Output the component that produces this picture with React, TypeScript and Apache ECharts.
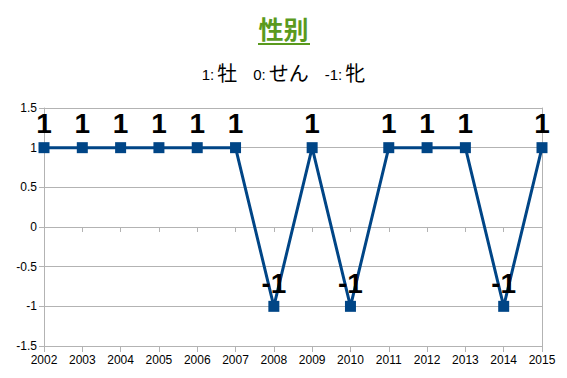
import React, { useEffect, useRef } from "react";
import * as echarts from "echarts";

const years = ["2002","2003","2004","2005","2006","2007","2008","2009","2010","2011","2012","2013","2014","2015"];
const values = [1,1,1,1,1,1,-1,1,-1,1,1,1,-1,1];
const titleText = "性别";
const legendParts = [
  { code: "1:", label: "牡" },
  { code: "0:", label: "せん" },
  { code: "-1:", label: "牝" },
];

export default function App() {
  const ref = useRef<HTMLDivElement>(null);
  useEffect(() => {
    const chart = echarts.init(ref.current!, null, { renderer: "svg" });
    const font = "'Liberation Sans', Arial, sans-serif";
    const richText = legendParts.map((p) => `{c|${p.code}}{g| }{k|${p.label}}`).join("{s| }");
    chart.setOption({
      animation: false,
      textStyle: { fontFamily: font },
      grid: { left: 44, right: 25, top: 108, bottom: 32 },
      graphic: [
        {
          type: "text",
          left: "center",
          top: 15,
          style: { text: titleText, fontSize: 25, fontWeight: "bold", fill: "#5a9a1e", fontFamily: "'Noto Sans CJK SC', sans-serif" },
        },
        {
          type: "rect",
          shape: { x: 258, y: 43, width: 52, height: 2 },
          style: { fill: "#5a9a1e" },
        },
        {
          type: "text",
          left: "center",
          top: 62,
          style: {
            text: richText,
            rich: {
              c: { fontSize: 15, fill: "#000", fontFamily: font, verticalAlign: "bottom" },
              g: { width: 3, fontSize: 15 },
              k: { fontSize: 20, fill: "#000", fontFamily: "'Noto Sans CJK JP', sans-serif" },
              s: { width: 16, fontSize: 15 },
            },
          },
        },
      ],
      xAxis: [
        {
          type: "category",
          data: years,
          boundaryGap: false,
          position: "bottom",
          axisLine: { onZero: false, lineStyle: { color: "#b3b3b3" } },
          axisTick: { show: true, length: 6, alignWithLabel: true, lineStyle: { color: "#b3b3b3" } },
          axisLabel: { color: "#000", fontSize: 12, margin: 8, fontFamily: font },
          splitLine: { show: false },
        },
        {
          type: "category",
          data: years,
          boundaryGap: false,
          position: "bottom",
          axisLine: { onZero: true, lineStyle: { color: "#b3b3b3" } },
          axisTick: { show: true, length: 5, lineStyle: { color: "#b3b3b3" } },
          axisLabel: { show: false },
          splitLine: { show: false },
        },
      ],
      yAxis: [
        {
          type: "value",
          min: -1.5,
          max: 1.5,
          interval: 0.5,
          axisLine: { show: true, lineStyle: { color: "#b3b3b3" } },
          axisTick: { show: true, length: 5, lineStyle: { color: "#b3b3b3" } },
          axisLabel: { color: "#000", fontSize: 12, margin: 7, fontFamily: font },
          splitLine: { show: true, lineStyle: { color: "#b3b3b3", width: 1 } },
        },
        {
          type: "value",
          min: -1.5,
          max: 1.5,
          interval: 0.5,
          position: "right",
          axisLine: { show: true, lineStyle: { color: "#b3b3b3" } },
          axisTick: { show: false },
          axisLabel: { show: false },
          splitLine: { show: false },
        },
      ],
      series: [
        {
          type: "line",
          data: values.map((v) => ({
            value: v,
            label: { distance: v > 0 ? 5 : 3 },
          })),
          xAxisIndex: 0,
          yAxisIndex: 0,
          symbol: "rect",
          symbolSize: 11,
          lineStyle: { color: "#004586", width: 3 },
          itemStyle: { color: "#004586" },
          label: {
            show: true,
            position: "top",
            color: "#000",
            fontSize: 28,
            fontWeight: "bold",
            fontFamily: font,
          },
          z: 5,
        },
      ],
    });
    return () => chart.dispose();
  }, []);
  return <div ref={ref} style={{ width: 567, height: 378, position: "absolute", left: 0, top: 0 }} />;
}
